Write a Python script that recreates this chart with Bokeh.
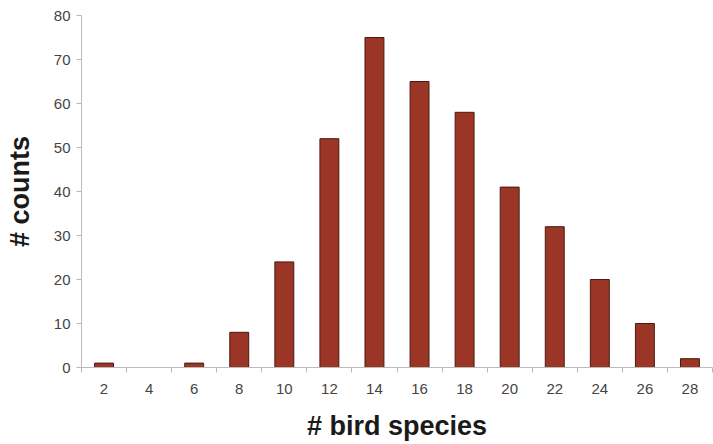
from bokeh.plotting import figure
from bokeh.models import FixedTicker, Range1d
from bokeh.embed import file_html
from bokeh.resources import INLINE

species = [2, 4, 6, 8, 10, 12, 14, 16, 18, 20, 22, 24, 26, 28]
counts = [1, 0, 1, 8, 24, 52, 75, 65, 58, 41, 32, 20, 10, 2]
y_ticks = [0, 10, 20, 30, 40, 50, 60, 70, 80]

p = figure(width=713, height=444, output_backend="svg", toolbar_location=None,
           x_range=Range1d(species[0] - 1, species[-1] + 1), y_range=Range1d(0, 80),
           min_border_left=81, min_border_top=15, min_border_right=1, min_border_bottom=77)

p.vbar(x=species, top=counts, width=0.84, fill_color="#9b3626", line_color="#4a1a12", line_width=1)

p.outline_line_color = None
p.xgrid.visible = False
p.ygrid.ticker = FixedTicker(ticks=[y_ticks[-1]])
p.ygrid.grid_line_color = "#c8c8c8"
p.ygrid.grid_line_width = 1

bounds = [s - 1 for s in species] + [species[-1] + 1]
p.xaxis.ticker = FixedTicker(ticks=species, minor_ticks=bounds)
p.xaxis.major_tick_out = 0
p.xaxis.major_tick_in = 0
p.xaxis.minor_tick_out = 5
p.xaxis.minor_tick_in = 0
p.xaxis.minor_tick_line_color = "#bbbbbb"
p.xaxis.axis_line_color = "#bbbbbb"
p.xaxis.major_label_standoff = 11
p.xaxis.axis_label = "# bird species"
p.xaxis.axis_label_standoff = 14

p.yaxis.ticker = FixedTicker(ticks=y_ticks)
p.yaxis.minor_tick_line_color = None
p.yaxis.major_tick_out = 5
p.yaxis.major_tick_in = 0
p.yaxis.major_tick_line_color = "#bbbbbb"
p.yaxis.axis_line_color = "#bbbbbb"
p.yaxis.major_label_standoff = 6
p.yaxis.axis_label = "# counts"
p.yaxis.axis_label_standoff = 16

for ax in (p.xaxis, p.yaxis):
    ax.major_label_text_font = "Liberation Sans"
    ax.major_label_text_font_size = "15px"
    ax.major_label_text_color = "#444444"
    ax.axis_label_text_font = "Liberation Sans"
    ax.axis_label_text_font_size = "27px"
    ax.axis_label_text_font_style = "bold"
    ax.axis_label_text_color = "#1a1a1a"

open("out.html", "w").write(file_html(p, INLINE))
